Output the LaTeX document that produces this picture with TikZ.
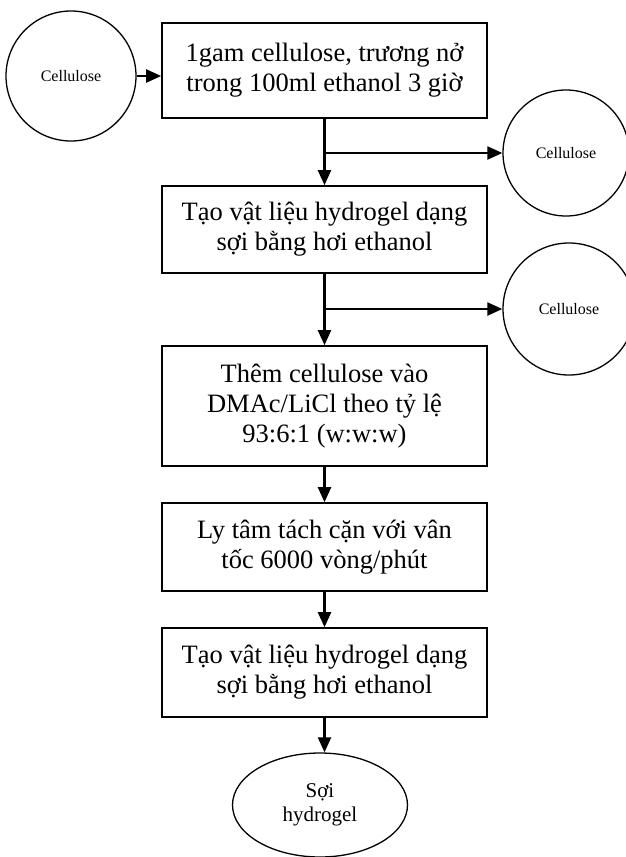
\documentclass[tikz,border=0pt]{standalone}
\usepackage{fontspec}
\setmainfont{Liberation Serif}
\usetikzlibrary{arrows.meta,shapes.geometric}
\begin{document}
\begin{tikzpicture}[x=1pt,y=-1pt,
  stepbox/.style={draw,line width=1.6pt,minimum width=325pt,inner sep=0pt,
    align=center,font=\fontsize{26.5}{30}\selectfont},
  srcnode/.style={draw,circle,line width=1.3pt,inner sep=0pt,
    font=\fontsize{16}{19}\selectfont},
  endnode/.style={draw,ellipse,line width=1.3pt,inner sep=0pt,align=center,
    minimum width=175pt,minimum height=104pt,font=\fontsize{21}{24}\selectfont},
  flow/.style={line width=2.2pt,-{Triangle[length=15pt,width=13pt]}}
]
\useasboundingbox (0,0) rectangle (625,857);

% raw material
\node[srcnode,minimum size=130pt] (c0) at (71,76) {Cellulose};

% process steps
\node[stepbox,minimum height=95pt]  (b1) at (324.5,70.5) {1gam cellulose, trương nở\\trong 100ml ethanol 3 giờ};
\node[stepbox,minimum height=87pt]  (b2) at (324.5,229.5) {Tạo vật liệu hydrogel dạng\\sợi bằng hơi ethanol};
\node[stepbox,minimum height=120pt] (b3) at (324.5,406) {Thêm cellulose vào\\DMAc/LiCl theo tỷ lệ\\93:6:1 (w:w:w)};
\node[stepbox,minimum height=88pt]  (b4) at (324.5,547) {Ly tâm tách cặn với vân\\tốc 6000 vòng/phút};
\node[stepbox,minimum height=89pt]  (b5) at (324.5,672.5) {Tạo vật liệu hydrogel dạng\\sợi bằng hơi ethanol};

% side outputs
\node[srcnode,minimum size=126pt] (c1) at (566,153) {Cellulose};
\node[srcnode,minimum size=132pt] (c2) at (569,309) {Cellulose};

% final product
\node[endnode] (e) at (320,805) {Sợi\\hydrogel};

% main flow
\draw[flow] (c0) -- (c0 -| b1.west);
\draw[flow] (b1) -- (b2);
\draw[flow] (b2) -- (b3);
\draw[flow] (b3) -- (b4);
\draw[flow] (b4) -- (b5);
\draw[flow] (b5.south) -- (b5.south |- e.north);

% branches to side outputs
\draw[flow] (b1.south |- c1) -- (c1);
\draw[flow] (b2.south |- c2) -- (c2);
\end{tikzpicture}
\end{document}
